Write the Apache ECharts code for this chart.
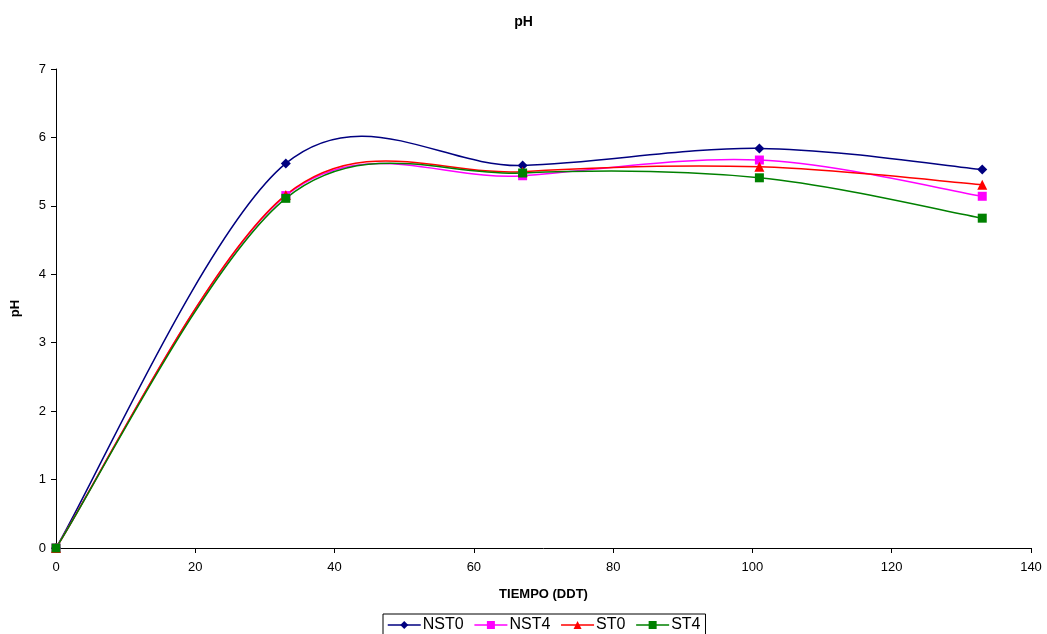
<!DOCTYPE html>
<html>
<head>
<meta charset="utf-8">
<script src="https://cdn.jsdelivr.net/npm/echarts@6/dist/echarts.min.js"></script>
<style>html,body{margin:0;padding:0;background:#fff}#c{width:1047px;height:634px}</style>
</head>
<body>
<div id="c"></div>
<script>
var tiempo = [0, 33, 67, 101, 133];
var NST0 = [0, 5.62, 5.59, 5.84, 5.53];
var NST4 = [0, 5.15, 5.44, 5.67, 5.14];
var ST0 = [0, 5.16, 5.50, 5.57, 5.31];
var ST4 = [0, 5.11, 5.48, 5.41, 4.82];
var seriesNames = ['NST0', 'NST4', 'ST0', 'ST4'];
var seriesData = [NST0, NST4, ST0, ST4];
var colors = ['#000080', '#FF00FF', '#FF0000', '#008000'];
var symbols = ['diamond', 'rect', 'triangle', 'rect'];
var symbolSizes = [10, 9, 10, 9];

function pairs(arr) { return tiempo.map(function (x, i) { return [x, arr[i]]; }); }

// Excel-like smoothed curve (Catmull-Rom style Bezier), segments drawn in pixel space via axis coords
function makeRender(color) {
  return function (params, api) {
    var n = params.dataInsideLength;
    var i = params.dataIndexInside;
    if (i >= n - 1) return null;
    function pt(j) {
      j = Math.max(0, Math.min(n - 1, j));
      return api.coord([api.value(0, j), api.value(1, j)]);
    }
    var p0 = pt(i - 1), p1 = pt(i), p2 = pt(i + 1), p3 = pt(i + 2);
    var t = 1 / 6;
    return {
      type: 'bezierCurve',
      shape: {
        x1: p1[0], y1: p1[1], x2: p2[0], y2: p2[1],
        cpx1: p1[0] + (p2[0] - p0[0]) * t, cpy1: p1[1] + (p2[1] - p0[1]) * t,
        cpx2: p2[0] - (p3[0] - p1[0]) * t, cpy2: p2[1] - (p3[1] - p1[1]) * t
      },
      style: { stroke: color, fill: null, lineWidth: 1.5 },
      silent: true
    };
  };
}

var chart = echarts.init(document.getElementById('c'));
var font = 'Liberation Sans, Arial, sans-serif';
var series = [];
seriesNames.forEach(function (n, i) {
  series.push({
    name: n + ' curve', type: 'custom', renderItem: makeRender(colors[i]),
    data: pairs(seriesData[i]), encode: { x: 0, y: 1 }, z: 5 + i, silent: true
  });
});
seriesNames.forEach(function (n, i) {
  series.push({
    name: n, type: 'line',
    data: pairs(seriesData[i]),
    symbol: symbols[i], symbolSize: symbolSizes[i], showSymbol: true,
    lineStyle: { color: colors[i], width: 1.5, opacity: 0 },
    itemStyle: { color: colors[i], borderWidth: 0 },
    z: 20 + i
  });
});

chart.setOption({
  backgroundColor: '#fff',
  animation: false,
  textStyle: { fontFamily: font },
  title: {
    text: 'pH', left: 'center', top: 10,
    textStyle: { fontSize: 14, fontWeight: 'bold', color: '#000', fontFamily: font }
  },
  legend: {
    top: 614, left: 383,
    data: seriesNames.map(function (n, i) {
      return { name: n, lineStyle: { color: colors[i], width: 1.5, opacity: 1 } };
    }),
    borderColor: '#000', borderWidth: 1, borderRadius: 0,
    padding: [3, 5, 8, 4],
    itemGap: 10, itemWidth: 33, itemHeight: 10,
    textStyle: { fontSize: 16, color: '#000', fontFamily: font, padding: [0, 0, 0, -3] }
  },
  grid: { left: 56, right: 16, top: 69, bottom: 86, containLabel: false },
  xAxis: {
    type: 'value', min: 0, max: 140, interval: 20,
    name: 'TIEMPO (DDT)', nameLocation: 'middle', nameGap: 40,
    nameTextStyle: { fontSize: 13, fontWeight: 'bold', color: '#000', fontFamily: font },
    axisLine: { show: true, lineStyle: { color: '#000', width: 1 } },
    axisTick: { show: true, inside: false, length: 5, lineStyle: { color: '#000' } },
    axisLabel: { fontSize: 13, color: '#000', margin: 13, fontFamily: font },
    splitLine: { show: false }
  },
  yAxis: {
    type: 'value', min: 0, max: 7, interval: 1,
    name: 'pH', nameLocation: 'middle', nameGap: 34, nameRotate: 90,
    nameTextStyle: { fontSize: 13, fontWeight: 'bold', color: '#000', fontFamily: font },
    axisLine: { show: true, lineStyle: { color: '#000', width: 1 } },
    axisTick: { show: true, inside: false, length: 5, lineStyle: { color: '#000' } },
    axisLabel: { fontSize: 13, color: '#000', margin: 10, fontFamily: font },
    splitLine: { show: false }
  },
  series: series
});
</script>
</body>
</html>
